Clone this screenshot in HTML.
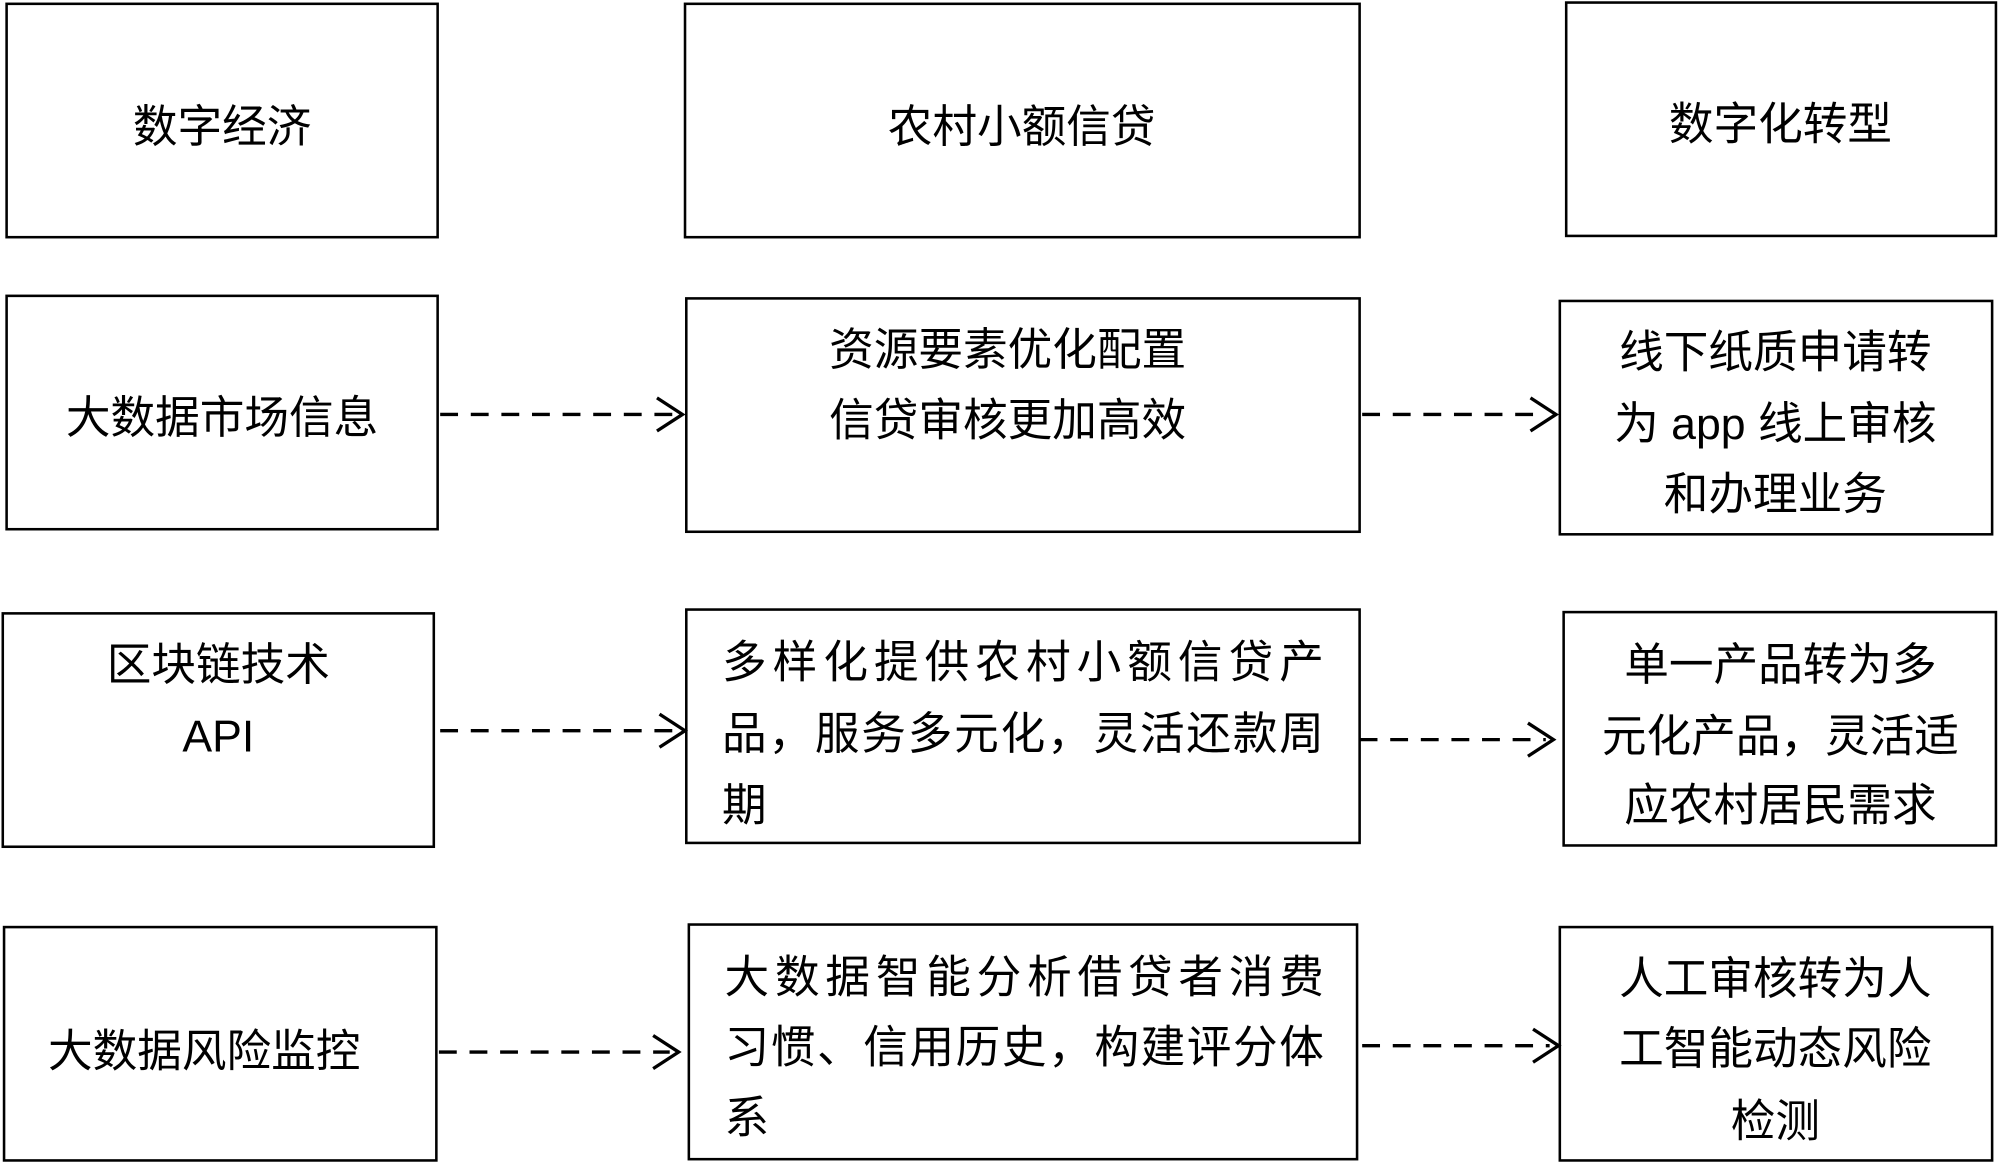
<!DOCTYPE html>
<html><head><meta charset="utf-8"><style>
html,body{margin:0;padding:0;background:#fff;}
svg{display:block}
text{font-family:"Liberation Sans","Noto Sans CJK SC",sans-serif;font-size:35px;fill:#000;dominant-baseline:central}
</style></head><body>
<svg width="2000" height="1163" viewBox="0 0 1568 912" xmlns="http://www.w3.org/2000/svg">
<g fill="none" stroke="#000" stroke-width="2">
<rect x="5" y="3" width="338" height="183"/>
<rect x="537" y="3" width="529" height="183"/>
<rect x="1228" y="2" width="337" height="183"/>
<rect x="5" y="232" width="338" height="183"/>
<rect x="538" y="234" width="528" height="183"/>
<rect x="1223" y="236" width="339" height="183"/>
<rect x="2" y="481" width="338" height="183"/>
<rect x="538" y="478" width="528" height="183"/>
<rect x="1226" y="480" width="339" height="183"/>
<rect x="3" y="727" width="339" height="183"/>
<rect x="540" y="725" width="524" height="184"/>
<rect x="1223" y="727" width="339" height="183"/>
</g>
<g fill="none" stroke="#000" stroke-width="2.6">
<g stroke-dasharray="14 10">
<line x1="345" y1="325" x2="528" y2="325"/>
<line x1="1068" y1="325" x2="1212" y2="325"/>
<line x1="345" y1="573" x2="530" y2="573"/>
<line x1="1066" y1="580" x2="1212" y2="580"/>
<line x1="344" y1="825" x2="525" y2="825"/>
<line x1="1068" y1="820" x2="1215" y2="820"/>
</g>
<polyline points="515,312 535,325 515,338"/>
<polyline points="1200,312 1220,325 1200,338"/>
<polyline points="517,560 537,573 517,586"/>
<polyline points="1198,567 1218,580 1198,593"/>
<polyline points="512,812 532,825 512,838"/>
<polyline points="1202,807 1222,820 1202,833"/>
</g>
<g text-anchor="middle">
<text x="174" y="100">数字经济</text>
<text x="801" y="100">农村小额信贷</text>
<text x="1396" y="98">数字化转型</text>
<text x="174" y="328">大数据市场信息</text>
<text x="790" y="275">资源要素优化配置</text>
<text x="790" y="330">信贷审核更加高效</text>
<text x="1392" y="277">线下纸质申请转</text>
<text x="1392" y="333">为 app 线上审核</text>
<text x="1392" y="388">和办理业务</text>
<text x="171" y="522">区块链技术</text>
<text x="171" y="578">API</text>
<text x="1396" y="522">单一产品转为多</text>
<text x="1396" y="578">元化产品，灵活适</text>
<text x="1396" y="632">应农村居民需求</text>
<text x="160" y="825">大数据风险监控</text>
<text x="1392" y="768">人工审核转为人</text>
<text x="1392" y="823">工智能动态风险</text>
<text x="1392" y="880">检测</text>
</g>
<g text-anchor="start">
<text x="566" y="520" textLength="472">多样化提供农村小额信贷产</text>
<text x="566" y="576" textLength="472">品，服务多元化，灵活还款周</text>
<text x="566" y="632">期</text>
<text x="568" y="767" textLength="470">大数据智能分析借贷者消费</text>
<text x="568" y="822" textLength="470">习惯、信用历史，构建评分体</text>
<text x="568" y="877">系</text>
</g>
</svg>
</body></html>
